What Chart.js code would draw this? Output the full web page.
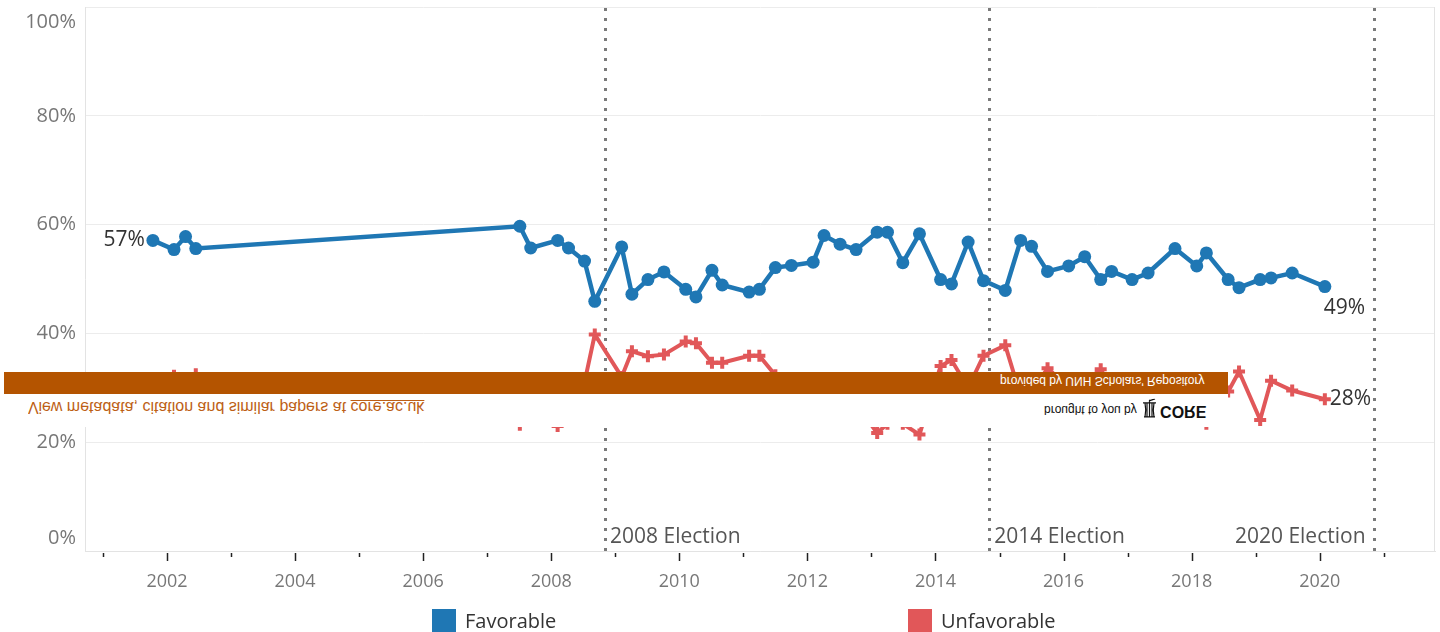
<!DOCTYPE html>
<html>
<head>
<meta charset="utf-8">
<script src="https://cdn.jsdelivr.net/npm/chart.js@4.4.1/dist/chart.umd.min.js"></script>
<style>
  body { margin: 0; background: #fff; }
  #wrap { position: relative; width: 1440px; height: 632px; overflow: hidden; }
  #grafico { position: absolute; left: 0; top: 0; }

  .legenda { position: absolute; top: 609px; display: flex; align-items: center;
             font-family: "Open Sans", sans-serif; font-size: 20px; color: #333; line-height: 23px; }
  .legenda i { display: inline-block; width: 24px; height: 23px; margin-right: 9px; }

  /* faixa do CORE por cima do grafico (espelhada, como na imagem) */
  #core { position: absolute; left: 0; top: 372px; width: 1228px; height: 55px; background: #fff;
          font-family: "Liberation Sans", Arial, sans-serif; }
  #core .faixa { position: absolute; left: 4px; top: 0; width: 1224px; height: 22px; background: #b45400; }
  #core .espelho { position: absolute; transform: scaleY(-1); white-space: nowrap; }
  #core .provided { left: 1000px; top: 2px; font-size: 12px; color: #fff; }
  #core .view { left: 28px; top: 26px; font-size: 16px; color: #bd5f16; }
  #core .view u { text-decoration: underline; }
  #core .brought { left: 1044px; top: 27px; font-size: 12px; color: #111; }
  #core .brought svg { vertical-align: middle; margin: 0 2px 0 1px; }
  #core .brought b { font-size: 16px; }
</style>
</head>
<body>
<div id="wrap">
  <canvas id="grafico" width="1440" height="632"></canvas>
  <div id="legendas"></div>
  <div id="core">
    <div class="faixa"></div>
    <div class="espelho provided">provided by UNH Scholars' Repository</div>
    <div class="espelho view">View metadata, citation and similar papers at <u>core.ac.uk</u></div>
    <div class="espelho brought">brought to you by <svg width="17" height="20" viewBox="0 0 17 20"><path d="M3 2h11M4 2c1 5 1 9 0 14M13 2c-1 5-1 9 0 14M6 2v14M8.5 2v14M11 2v14M2 16h13M8.5 16v3M8 18l6 2" stroke="#111" stroke-width="1.2" fill="none"/></svg><b>CORE</b></div>
  </div>
</div>

<script>
/* ================= DADOS ================= */

const datas = [
  2001.78, 2002.11, 2002.29, 2002.45, 2007.51, 2007.68, 2008.10, 2008.27, 2008.52, 2008.68,
  2009.10, 2009.26, 2009.51, 2009.76, 2010.10, 2010.26, 2010.51, 2010.67, 2011.09, 2011.25,
  2011.50, 2011.75, 2012.09, 2012.26, 2012.51, 2012.76, 2013.09, 2013.25, 2013.49, 2013.75,
  2014.08, 2014.25, 2014.51, 2014.75, 2015.09, 2015.33, 2015.50, 2015.75, 2016.08, 2016.33,
  2016.58, 2016.75, 2017.07, 2017.32, 2017.74, 2018.08, 2018.23, 2018.57, 2018.74, 2019.07,
  2019.24, 2019.57, 2020.08
];

const favoravel = [
  57.1, 55.4, 57.8, 55.6, 59.7, 55.7, 57.1, 55.7, 53.3, 45.9,
  55.9, 47.2, 49.9, 51.3, 48.1, 46.7, 51.6, 48.9, 47.6, 48.1,
  52.1, 52.5, 53.1, 58.0, 56.4, 55.4, 58.6, 58.6, 53.0, 58.3,
  49.9, 49.1, 56.8, 49.7, 47.9, 57.1, 56.0, 51.4, 52.4, 54.1,
  49.9, 51.4, 49.9, 51.1, 55.6, 52.4, 54.8, 49.9, 48.4, 49.9,
  50.2, 51.1, 48.6
];

const desfavoravel = [
  30.0, 32.2, 30.5, 32.5, 23.2, 27.0, 23.0, 28.0, 31.0, 39.8,
  32.0, 36.7, 35.8, 36.1, 38.5, 38.2, 34.6, 34.6, 35.9, 35.9,
  32.3, 30.0, 29.0, 27.0, 28.0, 27.0, 21.7, 23.4, 23.4, 21.4,
  34.0, 35.1, 30.0, 35.9, 37.8, 28.5, 29.0, 33.6, 30.0, 31.0,
  33.4, 30.0, 29.0, 31.0, 28.0, 29.0, 23.4, 29.3, 33.0, 24.1,
  31.3, 29.5, 27.9
];

const anos = [2001, 2002, 2003, 2004, 2005, 2006, 2007, 2008, 2009, 2010, 2011,
              2012, 2013, 2014, 2015, 2016, 2017, 2018, 2019, 2020, 2021];
const rotulosAnos = ["", "2002", "", "2004", "", "2006", "", "2008", "", "2010", "",
                     "2012", "", "2014", "", "2016", "", "2018", "", "2020", ""];

const ticksY = [0, 20, 40, 60, 80, 100];
const rotulosY = ["0%", "20%", "40%", "60%", "80%", "100%"];

const eleicoes = [2008.84, 2014.84, 2020.84];
const rotulosEleicoes = ["2008 Election", "2014 Election", "2020 Election"];

const series = ["Favorable", "Unfavorable"];
const cores = ["#1f77b4", "#e15759"];

/* ================= PLUGINS ================= */

const FONTE = "'Open Sans', sans-serif";

// linhas pontilhadas das eleicoes
const pluginEleicoes = {
  id: "eleicoes",
  beforeDatasetsDraw(chart) {
    const { ctx, chartArea, scales: { x } } = chart;
    ctx.save();
    ctx.strokeStyle = "#7a7a7a";
    ctx.lineWidth = 3;
    ctx.setLineDash([3, 7]);
    eleicoes.forEach(ano => {
      const px = Math.round(x.getPixelForValue(ano)) + 0.5;
      ctx.beginPath();
      ctx.moveTo(px, chartArea.top + 1);
      ctx.lineTo(px, chartArea.bottom + 6);
      ctx.stroke();
    });
    ctx.setLineDash([]);

    ctx.fillStyle = "#555";
    ctx.font = "21px " + FONTE;
    ctx.textBaseline = "middle";
    eleicoes.forEach((ano, i) => {
      const px = x.getPixelForValue(ano);
      const ultimo = i === eleicoes.length - 1;
      ctx.textAlign = ultimo ? "right" : "left";
      ctx.fillText(rotulosEleicoes[i], ultimo ? px - 8 : px + 5, chartArea.bottom - 14);
    });
    ctx.restore();
  }
};

// marcas do eixo x, rotulos do eixo y, borda direita
const pluginEixos = {
  id: "eixos",
  afterDraw(chart) {
    const { ctx, chartArea, scales: { x, y } } = chart;
    ctx.save();

    ctx.strokeStyle = "#e3e3e3";
    ctx.lineWidth = 1;
    ctx.beginPath();
    ctx.moveTo(chartArea.right - 0.5, chartArea.top);
    ctx.lineTo(chartArea.right - 0.5, chartArea.bottom);
    ctx.stroke();

    ctx.strokeStyle = "#222";
    ctx.lineWidth = 1.5;
    anos.forEach((ano, i) => {
      const px = Math.round(x.getPixelForValue(ano)) + 0.5;
      const len = rotulosAnos[i] ? 8 : 4;
      ctx.beginPath();
      ctx.moveTo(px, chartArea.bottom + 2);
      ctx.lineTo(px, chartArea.bottom + 2 + len);
      ctx.stroke();
    });

    ctx.fillStyle = "#777";
    ctx.font = "20px " + FONTE;
    ctx.textAlign = "right";
    ctx.textBaseline = "middle";
    ticksY.forEach((v, i) => {
      let py = y.getPixelForValue(v);
      py = Math.min(Math.max(py, chartArea.top + 15), chartArea.bottom - 13);
      ctx.fillText(rotulosY[i], 76, py);
    });
    ctx.restore();
  }
};

// rotulos de valor no inicio e no fim
const pluginValores = {
  id: "valores",
  afterDatasetsDraw(chart) {
    const { ctx } = chart;
    const fav = chart.getDatasetMeta(0).data;
    const des = chart.getDatasetMeta(1).data;
    const n = datas.length - 1;
    ctx.save();
    ctx.fillStyle = "#333";
    ctx.font = "21px " + FONTE;
    ctx.textBaseline = "middle";

    ctx.textAlign = "right";
    ctx.fillText(Math.round(favoravel[0]) + "%", fav[0].x - 8, fav[0].y);

    ctx.textAlign = "left";
    ctx.fillText(Math.round(favoravel[n]) + "%", fav[n].x - 1, fav[n].y + 21);
    ctx.fillText(Math.round(desfavoravel[n]) + "%", des[n].x + 5, des[n].y);
    ctx.restore();
  }
};

/* ================= GRAFICO ================= */

function criarGrafico() {

  const pontos = valores => datas.map((d, i) => ({ x: d, y: valores[i] }));

  new Chart(document.getElementById("grafico"), {
    type: "line",
    data: {
      datasets: [
        {
          label: series[0],
          data: pontos(favoravel),
          borderColor: cores[0],
          backgroundColor: cores[0],
          borderWidth: 4.5,
          pointStyle: "circle",
          pointRadius: 6.5,
          pointBorderWidth: 0,
          tension: 0
        },
        {
          label: series[1],
          data: pontos(desfavoravel),
          borderColor: cores[1],
          backgroundColor: cores[1],
          borderWidth: 4,
          pointStyle: "cross",
          pointRadius: 6,
          pointBorderWidth: 4,
          tension: 0
        }
      ]
    },
    options: {
      responsive: false,
      animation: false,
      devicePixelRatio: 1,
      layout: { autoPadding: false, padding: { top: 7, right: 5, bottom: 32, left: 0 } },
      plugins: { legend: { display: false }, tooltip: { enabled: false } },
      scales: {
        x: {
          type: "linear",
          min: 2000.72,
          max: 2021.8,
          afterBuildTicks: s => { s.ticks = anos.map(v => ({ value: v })); },
          afterFit: s => { s.height = 49; s.paddingLeft = 0; s.paddingRight = 0; },
          grid: { display: false },
          border: { display: true, color: "#e3e3e3" },
          ticks: {
            autoSkip: false,
            maxRotation: 0,
            padding: 12,
            color: "#777",
            font: { family: FONTE, size: 18 },
            callback: v => rotulosAnos[anos.indexOf(v)]
          }
        },
        y: {
          min: 0,
          max: 100,
          afterBuildTicks: s => { s.ticks = ticksY.map(v => ({ value: v })); },
          afterFit: s => { s.width = 85; s.paddingTop = 0; s.paddingBottom = 0; },
          grid: { color: "#ececec", drawTicks: false },
          border: { display: true, color: "#e3e3e3" },
          ticks: { display: false }
        }
      }
    },
    plugins: [pluginEleicoes, pluginValores, pluginEixos]
  });
}

/* ================= LEGENDA ================= */

function criarLegenda() {
  const posicoes = [432, 908];
  const div = document.getElementById("legendas");
  series.forEach((nome, i) => {
    const item = document.createElement("div");
    item.className = "legenda";
    item.style.left = posicoes[i] + "px";
    item.innerHTML = `<i style="background:${cores[i]}"></i>${nome}`;
    div.appendChild(item);
  });
}

criarGrafico();
criarLegenda();
</script>
</body>
</html>
